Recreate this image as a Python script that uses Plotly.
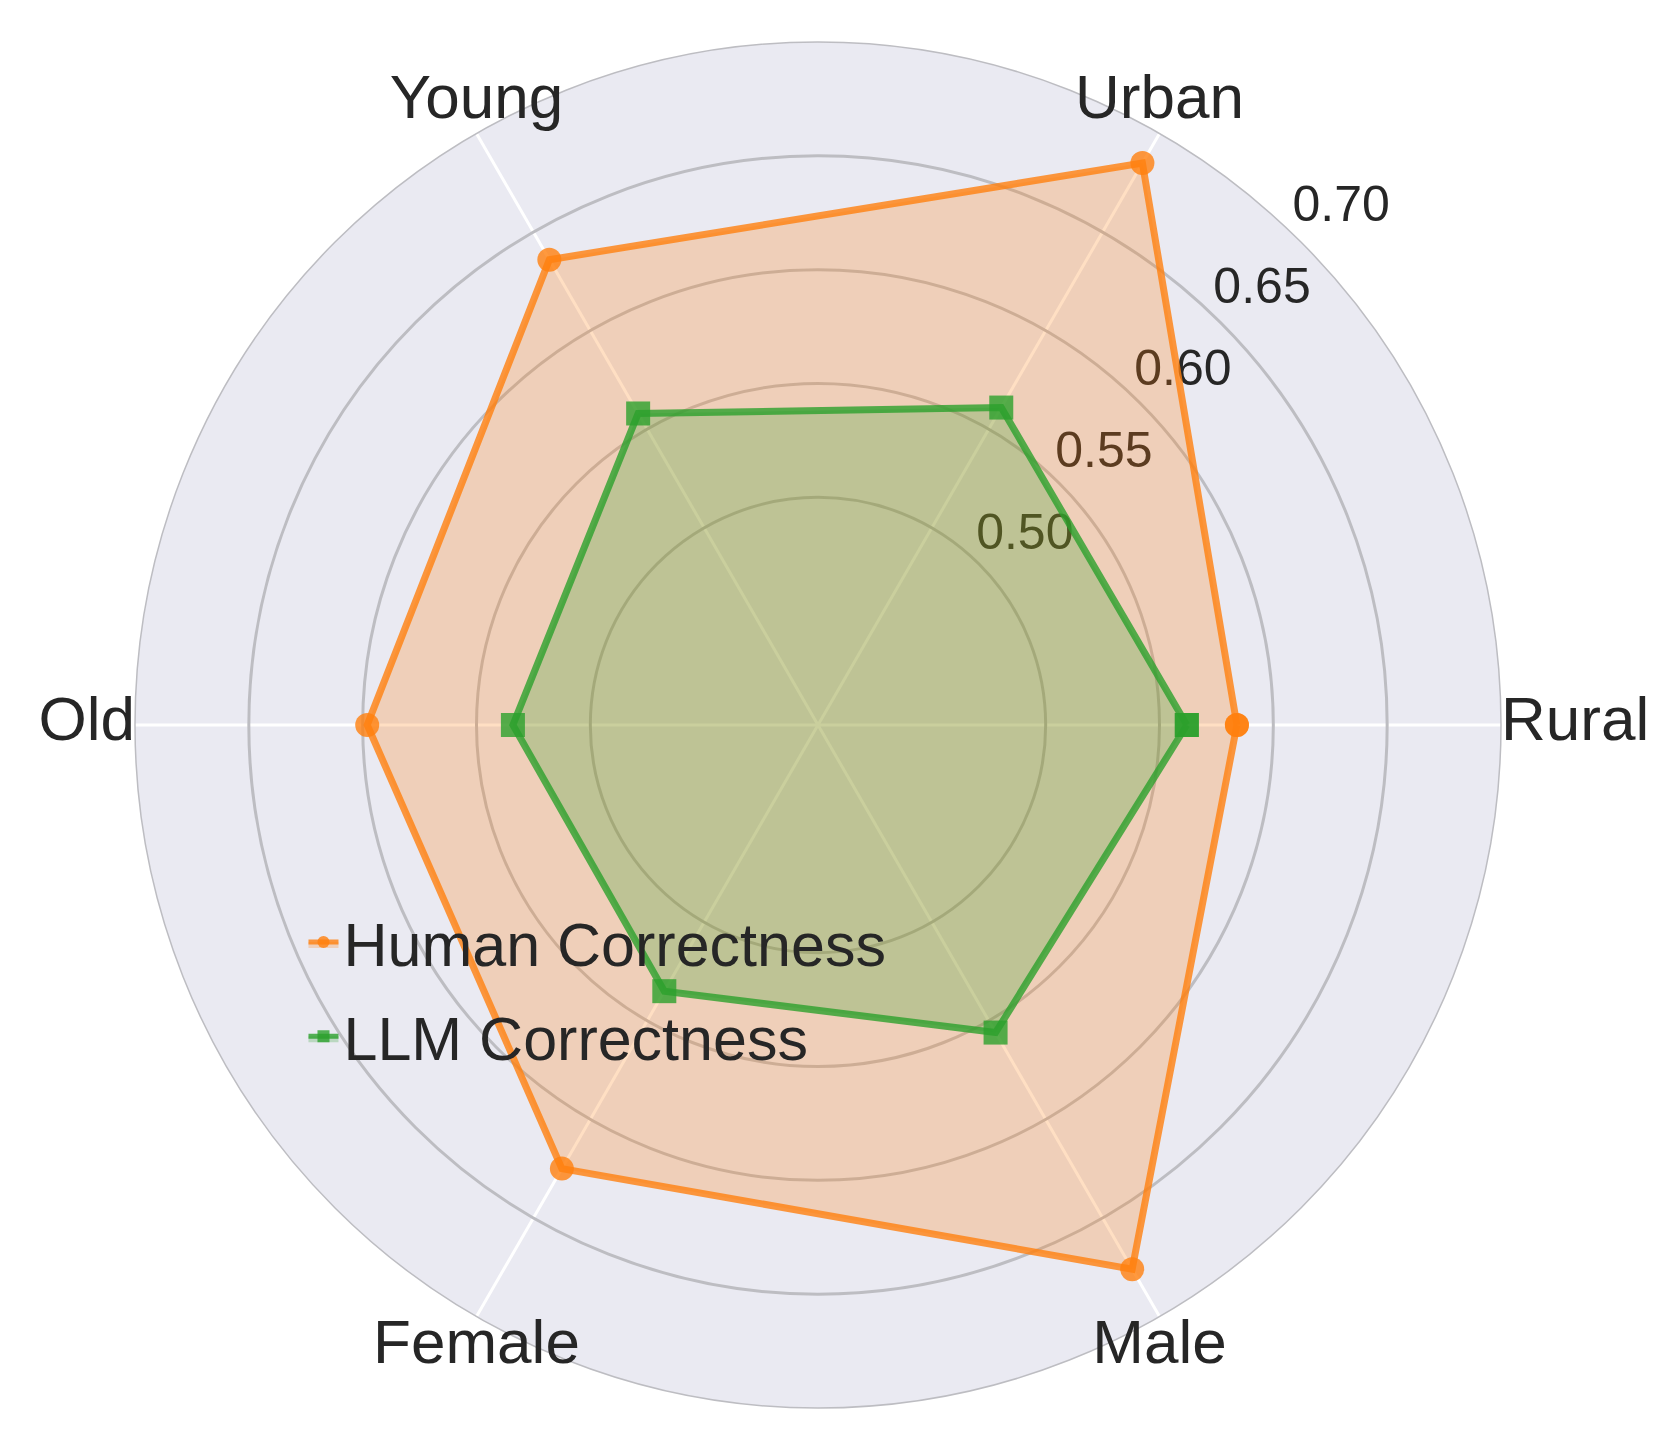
import math
import plotly.graph_objects as go

categories = ["Rural", "Urban", "Young", "Old", "Female", "Male"]
human_correctness = [0.584, 0.685, 0.636, 0.598, 0.625, 0.676]
llm_correctness = [0.562, 0.561, 0.558, 0.534, 0.535, 0.556]
radial_ticks = [0.50, 0.55, 0.60, 0.65, 0.70]

FONT = "Liberation Sans, Arial, sans-serif"
TEXT = "#262626"

# spokes evenly spaced, counterclockwise from the right
angles = [i * 360 / len(categories) for i in range(len(categories))]
r_min, r_max = 0.40, 0.70


def label_position(deg):
    s = math.sin(math.radians(deg))
    c = math.cos(math.radians(deg))
    if s > 0.5:
        return "top center"
    if s < -0.5:
        return "bottom center"
    return "middle right" if c > 0 else "middle left"


fig = go.Figure()

# radial tick labels (drawn first so the fills sit on top, like the original)
fig.add_trace(go.Scatterpolar(
    r=radial_ticks,
    theta=[46] * len(radial_ticks),
    text=[f"{v:.2f}" for v in radial_ticks],
    mode="text",
    textposition="top right",
    textfont=dict(size=50, family=FONT, color=TEXT),
    cliponaxis=False, showlegend=False, hoverinfo="skip",
))

fig.add_trace(go.Scatterpolar(
    r=human_correctness + human_correctness[:1],
    theta=angles + angles[:1],
    mode="lines+markers",
    name="Human Correctness",
    legendgroup="human",
    fill="toself",
    fillcolor="rgba(255,127,14,0.25)",
    line=dict(color="rgba(255,127,14,0.8)", width=7),
    marker=dict(symbol="circle", size=24, color="rgba(255,127,14,0.8)"),
))

fig.add_trace(go.Scatterpolar(
    r=llm_correctness + llm_correctness[:1],
    theta=angles + angles[:1],
    mode="lines+markers",
    name="LLM Correctness",
    legendgroup="llm",
    fill="toself",
    fillcolor="rgba(44,160,44,0.25)",
    line=dict(color="rgba(44,160,44,0.8)", width=7),
    marker=dict(symbol="square", size=24, color="rgba(44,160,44,0.8)"),
))

# category labels around the rim
fig.add_trace(go.Scatterpolar(
    r=[r_max] * len(categories),
    theta=angles,
    text=categories,
    mode="text",
    textposition=[label_position(a) for a in angles],
    textfont=dict(size=62, family=FONT, color=TEXT),
    cliponaxis=False, showlegend=False, hoverinfo="skip",
))

fig.update_layout(
    width=1660, height=1432,
    paper_bgcolor="white",
    margin=dict(l=0, r=0, t=0, b=0),
    font=dict(family=FONT, color=TEXT),
    polar=dict(
        domain=dict(x=[0.0765, 0.8994], y=[0.02235, 0.97626]),
        bgcolor="#EAEAF2",
        radialaxis=dict(
            range=[r_min, r_max],
            tickvals=radial_ticks,
            showticklabels=False,
            showline=False, ticks="",
            gridcolor="#bdbdc2", gridwidth=2.5,
            layer="below traces",
        ),
        angularaxis=dict(
            direction="counterclockwise", rotation=0,
            tickvals=angles,
            showticklabels=False,
            showline=True, linecolor="#bdbdc2", linewidth=1.5,
            gridcolor="white", gridwidth=2.5,
            ticks="",
            layer="below traces",
        ),
    ),
    legend=dict(
        x=0.178, y=0.38, xanchor="left", yanchor="top",
        bgcolor="rgba(0,0,0,0)",
        font=dict(size=61, family=FONT, color=TEXT),
        tracegroupgap=12,
        itemsizing="constant",
    ),
)

fig.write_html("out.html")
